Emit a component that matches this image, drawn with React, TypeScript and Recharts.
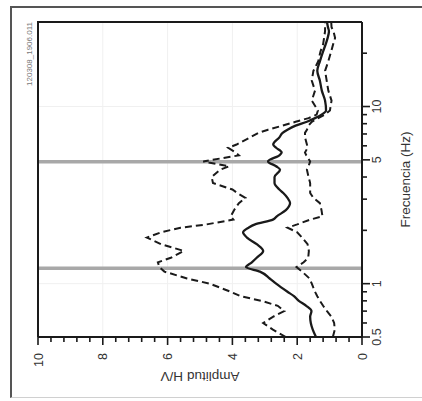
import { LineChart, Line, XAxis, YAxis, ReferenceLine } from "recharts";

// H/V spectral ratio: mean curve and +/- one standard deviation
const frequencies = [
  0.5, 0.55, 0.6, 0.65, 0.7, 0.75, 0.8, 0.85, 0.9, 1.0, 1.07, 1.17, 1.24, 1.32,
  1.4, 1.53, 1.67, 1.82, 1.95, 2.07, 2.16, 2.3, 2.4, 2.6, 2.85, 3.05, 3.25, 3.4,
  3.7, 4.0, 4.4, 4.6, 4.9, 5.3, 5.5, 5.85, 6.1, 6.7, 7.1, 7.4, 7.8, 8.2, 8.6,
  9.0, 9.5, 10.8, 12.3, 14, 15.9, 18, 20.5, 22.5, 24.4, 26.6, 28, 30,
];
const meanHV = [
  1.42, 1.52, 1.58, 1.6, 1.56, 1.72, 1.95, 2.1, 2.3, 2.65, 2.85, 3.15, 3.58, 3.4,
  3.25, 3.05, 3.25, 3.55, 3.67, 3.5, 3.3, 2.75, 2.63, 2.35, 2.22, 2.3, 2.43, 2.55,
  2.7, 2.7, 2.53, 2.65, 2.9, 2.55, 2.48, 2.65, 2.74, 2.55, 2.45, 2.3, 2.05, 1.7,
  1.45, 1.25, 1.11, 1.14, 1.24, 1.3, 1.38, 1.3, 1.2, 1.12, 1.06, 1.02, 1.05, 1.08,
];
const upperHV = [
  2.35, 2.75, 3.05, 2.75, 2.4, 2.6, 3.1, 3.75, 4.05, 4.7, 5.4, 6.1, 6.25, 6.3,
  5.9, 5.5, 6.2, 6.64, 6.2, 5.6, 4.8, 3.97, 4.05, 3.95, 3.8, 3.6, 3.85, 4.0,
  4.6, 4.64, 4.38, 4.1, 4.9, 3.8, 3.9, 4.13, 3.87, 3.45, 3.2, 2.9, 2.45, 2.05,
  1.65, 1.4, 1.36, 1.55, 1.45, 1.55, 1.5, 1.35, 1.28, 1.2, 1.17, 1.14, 1.14, 1.14,
];
const lowerHV = [
  0.9, 0.84, 0.86, 0.94, 1.08, 1.2, 1.3, 1.38, 1.45, 1.55, 1.62, 1.85, 2.02, 1.8,
  1.66, 1.64, 1.68, 1.85, 2.0, 2.3, 2.0, 1.6, 1.22, 1.25, 1.3, 1.5, 1.6, 1.6,
  1.6, 1.65, 1.7, 1.65, 1.6, 1.72, 1.76, 1.68, 1.7, 1.76, 1.76, 1.7, 1.65, 1.55,
  1.35, 1.15, 0.99, 0.94, 1.04, 1.09, 1.14, 1.04, 0.95, 0.89, 0.83, 0.88, 0.94, 0.95,
];

const freqTicks = [0.5, 0.6, 0.7, 0.8, 0.9, 1, 2, 3, 4, 5, 6, 7, 8, 9, 10, 20];
const freqLabels = [0.5, 1, 5, 10];
const ampTicks = [
  0, 0.4, 0.8, 1.2, 1.6, 2, 2.4, 2.8, 3.2, 3.6, 4, 4.4, 4.8, 5.2, 5.6, 6, 6.4,
  6.8, 7.2, 7.6, 8, 8.4, 8.8, 9.2, 9.6, 10,
];
const ampLabels = [0, 2, 4, 6, 8, 10];
const freqRange = [0.5, 30];
const ampRange = [0, 10];
const peakFrequencies = [1.22, 4.88];
const gridAmps = [2, 4, 6, 8];
const gridFreqs = [1, 10];
const recordId = "120308_1906.011";

const data = frequencies.map((f, i) => ({
  f,
  mean: meanHV[i],
  upper: upperHV[i],
  lower: lowerHV[i],
}));

const FONT = "'Liberation Sans', Arial, sans-serif";
const INK = "#1a1a1a";

// chart box, drawn unrotated and then turned 90deg counter-clockwise
const CHART_W = 401;
const CHART_H = 422;
const MARGIN = { top: 38, right: 22, left: 0, bottom: 0 };
const Y_AXIS_W = 64;
const X_AXIS_H = 60;
const PLOT_L = MARGIN.left + Y_AXIS_W;
const PLOT_R = CHART_W - MARGIN.right;
const PLOT_T = MARGIN.top;
const PLOT_B = CHART_H - X_AXIS_H;

const FreqTick = (props: any) => {
  const { x, y, payload } = props;
  const major = freqLabels.includes(payload.value);
  return (
    <g>
      <line x1={x} y1={y} x2={x} y2={y + (major ? 8 : 5)} stroke={INK} strokeWidth={1.6} />
      {major && (
        <text x={x} y={y + 10} dy="0.72em" textAnchor="middle" fontSize={12.5} fontFamily={FONT} fill="#333">
          {payload.value}
        </text>
      )}
    </g>
  );
};

const AmpTick = (props: any) => {
  const { x, y, payload } = props;
  const major = ampLabels.includes(payload.value);
  return (
    <g>
      <line x1={x - (major ? 8 : 5)} y1={y} x2={x} y2={y} stroke={INK} strokeWidth={1.6} />
      {major && (
        <text x={x - 16} y={y} dy="0.36em" textAnchor="end" fontSize={12.5} fontFamily={FONT} fill="#333">
          {payload.value}
        </text>
      )}
    </g>
  );
};

export default function App() {
  return (
    <div style={{ position: "absolute", left: 0, top: 0, width: 422, height: 401, background: "#fff", overflow: "hidden" }}>
      <div
        style={{
          position: "absolute",
          left: 10,
          top: 6,
          width: 412,
          height: 392,
          borderLeft: "2px solid #555",
          borderTop: "2px solid #555",
          borderBottom: "1px solid #d0d0d0",
          boxSizing: "border-box",
        }}
      />
      <div
        style={{
          position: "absolute",
          left: 0,
          top: 0,
          width: CHART_W,
          height: CHART_H,
          transformOrigin: "0 0",
          transform: `translate(0px, ${CHART_W}px) rotate(-90deg)`,
        }}
      >
        <span
          style={{
            position: "absolute",
            right: 22,
            top: 25,
            fontSize: 8,
            fontFamily: FONT,
            color: "#777",
            lineHeight: "9px",
          }}
        >
          {recordId}
        </span>
        <LineChart width={CHART_W} height={CHART_H} data={data} margin={MARGIN}>
          {gridAmps.map((a) => (
            <ReferenceLine key={"ga" + a} y={a} stroke="#f0f0f0" strokeWidth={1} />
          ))}
          {gridFreqs.map((g) => (
            <ReferenceLine key={"gf" + g} x={g} stroke="#f0f0f0" strokeWidth={1} />
          ))}
          <XAxis
            dataKey="f"
            type="number"
            scale="log"
            domain={freqRange}
            allowDataOverflow
            ticks={freqTicks}
            interval={0}
            height={X_AXIS_H}
            tickSize={0}
            tickMargin={0}
            tickLine={false}
            tick={<FreqTick />}
            axisLine={{ stroke: INK, strokeWidth: 2 }}
            label={{
              value: "Frecuencia (Hz)",
              position: "insideBottom",
              offset: 12,
              style: { fontSize: 13.5, fontFamily: FONT, fill: "#333" },
            }}
          />
          <YAxis
            type="number"
            domain={ampRange}
            ticks={ampTicks}
            interval={0}
            width={Y_AXIS_W}
            tickSize={0}
            tickMargin={0}
            tickLine={false}
            tick={<AmpTick />}
            axisLine={{ stroke: INK, strokeWidth: 2 }}
            label={{
              value: "Amplitud H/V",
              position: "insideLeft",
              angle: -90,
              offset: 24,
              style: { fontSize: 13.5, fontFamily: FONT, fill: "#333", textAnchor: "middle" },
            }}
          />
          {peakFrequencies.map((p) => (
            <ReferenceLine key={"p" + p} x={p} stroke="#a8a8a8" strokeWidth={3.5} />
          ))}
          <Line
            dataKey="upper"
            type="linear"
            stroke={INK}
            strokeWidth={2}
            strokeDasharray="7 4"
            dot={false}
            isAnimationActive={false}
          />
          <Line
            dataKey="lower"
            type="linear"
            stroke={INK}
            strokeWidth={2}
            strokeDasharray="7 4"
            dot={false}
            isAnimationActive={false}
          />
          <Line
            dataKey="mean"
            type="monotone"
            stroke={INK}
            strokeWidth={2.3}
            dot={false}
            isAnimationActive={false}
          />
        </LineChart>
        {/* frame on the two plot sides that carry no axis */}
        <svg
          width={CHART_W}
          height={CHART_H}
          style={{ position: "absolute", left: 0, top: 0, zIndex: 10, pointerEvents: "none" }}
        >
          <polyline
            points={`${PLOT_L},${PLOT_T} ${PLOT_R},${PLOT_T} ${PLOT_R},${PLOT_B}`}
            fill="none"
            stroke={INK}
            strokeWidth={2}
          />
        </svg>
      </div>
    </div>
  );
}
